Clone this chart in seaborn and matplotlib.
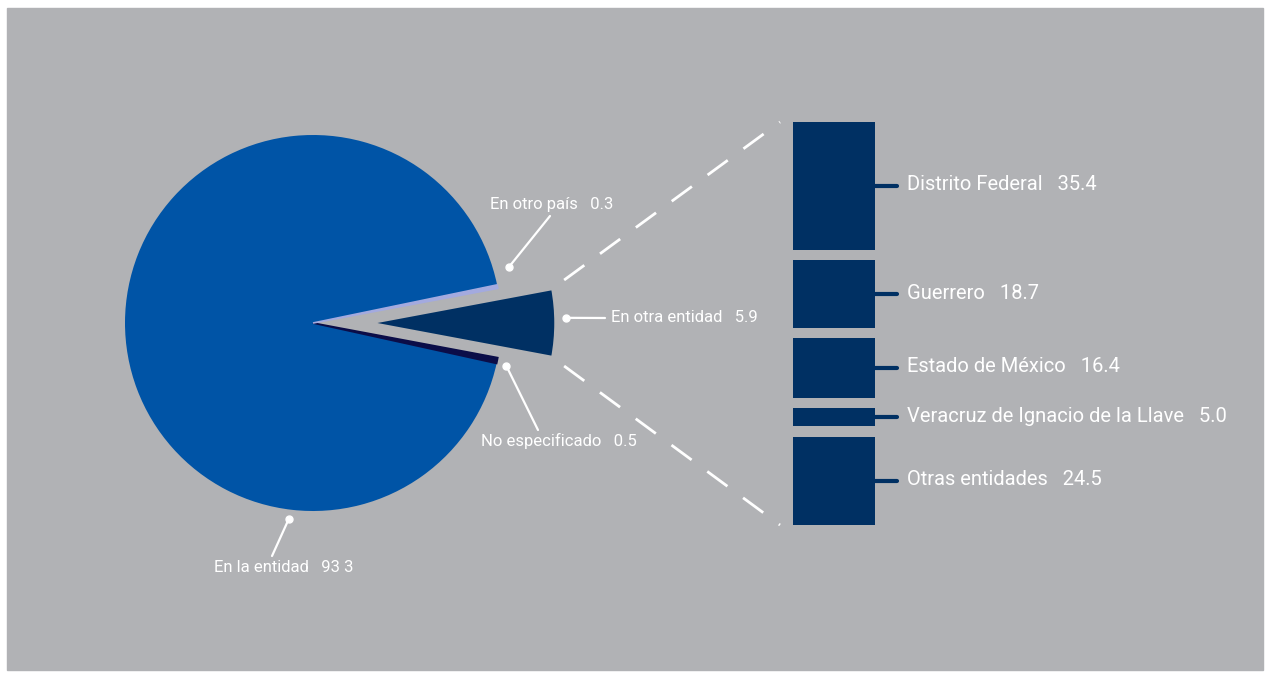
import numpy as np
import matplotlib
matplotlib.use("Agg")
import matplotlib.pyplot as plt
from matplotlib.patches import Rectangle
import seaborn as sns

# pie: where the population lives
pie_labels = ["En la entidad", "En otro país", "En otra entidad", "No especificado"]
pie_values = [93.3, 0.3, 5.9, 0.5]
pie_texts = ["93 3", "0.3", "5.9", "0.5"]

# bar: breakdown of "En otra entidad"
bar_labels = ["Distrito Federal", "Guerrero", "Estado de México",
              "Veracruz de Ignacio de la Llave", "Otras entidades"]
bar_values = [35.4, 18.7, 16.4, 5.0, 24.5]

BG = "#b1b2b5"
BLUE = "#0054a6"
NAVY = "#003063"
LIGHT = "#a3aadf"
DARK = "#0b0d48"

sns.set_theme(style="white")
plt.rcParams["font.family"] = ["Roboto", "DejaVu Sans"]

fig = plt.figure(figsize=(12.7, 6.77), dpi=100)
ax = fig.add_axes([0, 0, 1, 1])

# pie, drawn in pixel-like coords (y goes down)
cx, cy, R = 313, 323, 188
order = [2, 3, 0, 1]  # exploded wedge first, centred on 0 deg
vals = [pie_values[i] for i in order]
cols = {0: BLUE, 1: LIGHT, 2: NAVY, 3: DARK}
wedges, _ = ax.pie(vals, colors=[cols[i] for i in order], radius=R, center=(cx, cy),
                   startangle=-pie_values[2] * 3.6 / 2, counterclock=True,
                   explode=[55, 0, 0, 0], frame=False,
                   wedgeprops=dict(linewidth=0))
wedges[0].set_edgecolor(BG)
wedges[0].set_linewidth(2.5)
# thin slivers get an outline in their own colour so they read as bands
for wd, i in zip(wedges, order):
    if i in (1, 3):
        wd.set_edgecolor(cols[i])
        wd.set_linewidth(1.2)
        wd.set_zorder(1.5)

ax.set_xlim(0, 1270)
ax.set_ylim(677, 0)
ax.set_aspect("equal")
ax.axis("off")
ax.add_patch(Rectangle((7, 8), 1256, 662, color=BG, zorder=0))

# labels for the pie
label_spec = {
    "En otro país": ((cx, cy), -16, 204, (550, 216), (490, 205)),
    "En otra entidad": (None, -1.5, 198, (605, 318), (611, 318)),
    "No especificado": ((cx, cy), 12.5, 198, (538, 430), (481, 441)),
    "En la entidad": ((cx, cy), 97, 197, (272, 556), (214, 568)),
}
for lab, txt in zip(pie_labels, pie_texts):
    c, ang, rr, lend, tpos = label_spec[lab]
    if c is None:
        c = wedges[0].center
    a = np.deg2rad(ang)
    dx, dy = c[0] + rr * np.cos(a), c[1] + rr * np.sin(a)
    ax.plot([dx, lend[0]], [dy, lend[1]], color="white", lw=1.6, zorder=3)
    ax.plot(dx, dy, "o", color="white", ms=5, zorder=3)
    ax.text(tpos[0], tpos[1], f"{lab}   {txt}", color="white", fontsize=12,
            va="center", ha="left", zorder=3)

# stacked bar with gaps
bar_x0, bar_w = 793, 82
top, total_h, gap = 122, 403, 10.5
unit = (total_h - gap * (len(bar_values) - 1)) / sum(bar_values)
y0 = top
for lab, v in zip(bar_labels, bar_values):
    h = v * unit
    ax.bar(bar_x0, h, bottom=y0, width=bar_w, align="edge", color=NAVY, linewidth=0, zorder=2)
    yc = y0 + h / 2
    ax.plot([bar_x0 + bar_w, bar_x0 + bar_w + 22], [yc, yc], color=NAVY, lw=3,
            solid_capstyle="round", zorder=2)
    ax.text(bar_x0 + bar_w + 32, yc - 1, f"{lab}   {v:.1f}", color="white", fontsize=14.5,
            va="center", ha="left", zorder=3)
    y0 += h + gap

# dashed connectors from the exploded wedge to the bar
w = wedges[0]
for th, ty in [(w.theta1, top), (w.theta2, top + total_h)]:
    t = np.deg2rad(th)
    px, py = w.center[0] + w.r * np.cos(t), w.center[1] + w.r * np.sin(t)
    ex, ey = bar_x0 - 13, ty
    sx, sy = px + 0.05 * (ex - px), py + 0.05 * (ey - py)
    ax.plot([sx, ex], [sy, ey], color="white", lw=2, linestyle=(0, (9, 7)), zorder=3)

fig.savefig("out.png", dpi=100, facecolor="white")
